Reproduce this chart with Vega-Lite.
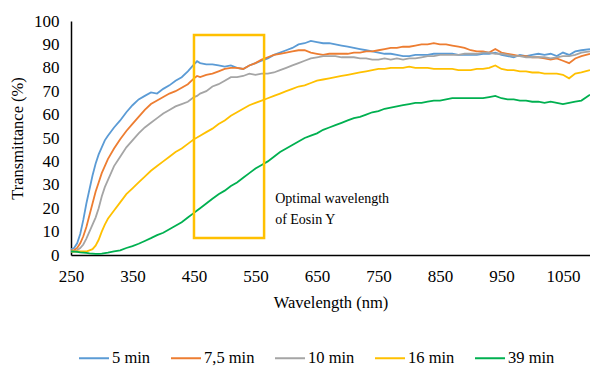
{
  "$schema": "https://vega.github.io/schema/vega-lite/v6.json",
  "width": 519,
  "height": 234,
  "autosize": {"type": "none"},
  "padding": {"left": 71, "top": 21, "right": 0, "bottom": 112},
  "background": "white",
  "config": {
    "view": {"stroke": null},
    "font": "Liberation Serif",
    "axis": {"labelFont": "Liberation Serif", "titleFont": "Liberation Serif"},
    "legend": {"labelFont": "Liberation Serif"}
  },
  "encoding": {
    "x": {"field": "w", "type": "quantitative", "scale": {"domain": [250, 1094], "nice": false, "zero": false},
          "axis": {"values": [250,350,450,550,650,750,850,950,1050], "format": "d", "title": "Wavelength (nm)",
                   "labelFont": "Liberation Serif", "titleFont": "Liberation Serif",
                   "labelColor": "#000", "titleColor": "#000", "titleFontWeight": "normal",
                   "labelFontSize": 17, "titleFontSize": 16.5, "labelPadding": 13, "titlePadding": 10, "labelFlush": false, "labelOverlap": false,
                   "grid": false, "ticks": false, "domainColor": "#000", "domainWidth": 1.5}},
    "y": {"field": "T", "type": "quantitative", "scale": {"domain": [0, 100], "nice": false},
          "axis": {"values": [0,10,20,30,40,50,60,70,80,90,100], "title": "Transmittance (%)",
                   "labelFont": "Liberation Serif", "titleFont": "Liberation Serif",
                   "labelColor": "#000", "titleColor": "#000", "titleFontWeight": "normal",
                   "labelFontSize": 17, "titleFontSize": 16.5, "labelPadding": 12, "titlePadding": 8, "labelFlush": false, "labelOverlap": false,
                   "grid": false, "ticks": false, "domainColor": "#000", "domainWidth": 1.5}}
  },
  "layer": [
    {
      "data": {"values": [
        {"w":250,"a":2.5,"b":2,"c":1.5,"d":1.5,"e":1.5},
        {"w":255,"a":3,"b":2,"c":1.5,"d":1.5,"e":1.4},
        {"w":260,"a":5,"b":3,"c":2,"d":1.5,"e":1.3},
        {"w":265,"a":9,"b":5,"c":3,"d":1.5,"e":1.1},
        {"w":270,"a":15,"b":8,"c":4.5,"d":1.5,"e":1},
        {"w":275,"a":22,"b":12,"c":7,"d":1.5,"e":0.9},
        {"w":280,"a":28,"b":17,"c":10,"d":2,"e":0.7},
        {"w":285,"a":34,"b":22,"c":13,"d":2.5,"e":0.6},
        {"w":290,"a":39,"b":27,"c":16,"d":4,"e":0.5},
        {"w":295,"a":43,"b":31,"c":20,"d":6.5,"e":0.5},
        {"w":300,"a":46,"b":35,"c":25,"d":10,"e":0.6},
        {"w":305,"a":49,"b":38,"c":29,"d":13,"e":0.8},
        {"w":310,"a":51,"b":41,"c":32,"d":15.5,"e":1},
        {"w":320,"a":54.5,"b":45.5,"c":38,"d":19,"e":1.5},
        {"w":330,"a":57.5,"b":49.5,"c":42,"d":22.5,"e":2},
        {"w":340,"a":61,"b":53,"c":46,"d":26,"e":3},
        {"w":350,"a":64,"b":56,"c":49,"d":28.5,"e":3.8},
        {"w":360,"a":66.5,"b":59,"c":52,"d":31,"e":4.8},
        {"w":370,"a":68,"b":62,"c":54.5,"d":33.5,"e":6},
        {"w":380,"a":69.5,"b":64.5,"c":56.5,"d":36,"e":7.2},
        {"w":390,"a":69,"b":66,"c":58.5,"d":38,"e":8.5},
        {"w":400,"a":71,"b":67.5,"c":60.5,"d":40,"e":9.5},
        {"w":410,"a":72.5,"b":69,"c":62,"d":42,"e":11},
        {"w":420,"a":74.5,"b":70,"c":63.5,"d":44,"e":12.5},
        {"w":430,"a":76,"b":71.5,"c":64.5,"d":45.5,"e":14},
        {"w":440,"a":78.5,"b":73,"c":65.5,"d":47.5,"e":16},
        {"w":450,"a":81.5,"b":75.5,"c":67.5,"d":49.5,"e":18},
        {"w":455,"a":82.8,"b":76.5,"c":68,"d":50.2,"e":19},
        {"w":460,"a":82,"b":76,"c":69,"d":51,"e":20},
        {"w":470,"a":81.5,"b":77,"c":70,"d":52.5,"e":22},
        {"w":480,"a":81.5,"b":77.5,"c":72,"d":54,"e":24},
        {"w":490,"a":81,"b":78.5,"c":73,"d":56,"e":26},
        {"w":500,"a":80.5,"b":79.5,"c":74.5,"d":57.5,"e":27.5},
        {"w":510,"a":81,"b":80,"c":76,"d":59.5,"e":29.5},
        {"w":520,"a":80,"b":80,"c":76,"d":61,"e":31},
        {"w":530,"a":79.5,"b":79.5,"c":76.5,"d":62.5,"e":33},
        {"w":540,"a":81,"b":81,"c":77.5,"d":64,"e":35},
        {"w":550,"a":82,"b":82,"c":77,"d":65,"e":37},
        {"w":560,"a":83,"b":83.5,"c":77.5,"d":66,"e":38.5},
        {"w":570,"a":84,"b":84.5,"c":77.5,"d":67,"e":40},
        {"w":580,"a":85.5,"b":85.5,"c":78,"d":68,"e":42},
        {"w":590,"a":86.5,"b":86,"c":79,"d":69,"e":44},
        {"w":600,"a":87.5,"b":86.5,"c":80,"d":70,"e":45.5},
        {"w":610,"a":88.5,"b":87,"c":81,"d":71,"e":47},
        {"w":620,"a":90,"b":87.5,"c":82,"d":72,"e":48.5},
        {"w":630,"a":90.5,"b":87.5,"c":83,"d":72.5,"e":50},
        {"w":640,"a":91.5,"b":86.5,"c":84,"d":73.5,"e":51},
        {"w":650,"a":91,"b":86,"c":84.5,"d":74.5,"e":52},
        {"w":660,"a":90.5,"b":85.5,"c":85,"d":75,"e":53.5},
        {"w":670,"a":90.5,"b":86,"c":85,"d":75.5,"e":54.5},
        {"w":680,"a":90,"b":86,"c":85,"d":76,"e":55.5},
        {"w":690,"a":89.5,"b":86,"c":84.5,"d":76.5,"e":56.5},
        {"w":700,"a":89,"b":86,"c":84.5,"d":77,"e":57.5},
        {"w":710,"a":88.5,"b":86.5,"c":84.5,"d":77.5,"e":58.5},
        {"w":720,"a":88,"b":86.5,"c":84,"d":78,"e":59},
        {"w":730,"a":87.5,"b":87,"c":84,"d":78.5,"e":60},
        {"w":740,"a":87,"b":87,"c":83.5,"d":79,"e":61},
        {"w":750,"a":86.5,"b":87.5,"c":83.5,"d":79.5,"e":61.5},
        {"w":760,"a":86,"b":88,"c":84,"d":79.5,"e":62.5},
        {"w":770,"a":86,"b":88.5,"c":83.5,"d":80,"e":63},
        {"w":780,"a":85.5,"b":88.5,"c":84,"d":80,"e":63.5},
        {"w":790,"a":85,"b":89,"c":83.5,"d":80,"e":64},
        {"w":800,"a":85,"b":89,"c":84,"d":80.5,"e":64.5},
        {"w":810,"a":85.5,"b":89.5,"c":84,"d":80,"e":65},
        {"w":820,"a":85.5,"b":90,"c":84.5,"d":80,"e":65},
        {"w":830,"a":85.5,"b":90,"c":85,"d":80,"e":65.5},
        {"w":840,"a":86,"b":90.5,"c":85,"d":79.5,"e":66},
        {"w":850,"a":86,"b":90,"c":85.5,"d":79.5,"e":66},
        {"w":860,"a":86,"b":90,"c":85.5,"d":79.5,"e":66.5},
        {"w":870,"a":86,"b":89.5,"c":85.5,"d":79.5,"e":67},
        {"w":880,"a":85.5,"b":89,"c":85.5,"d":79,"e":67},
        {"w":890,"a":85.5,"b":88.5,"c":86,"d":79,"e":67},
        {"w":900,"a":85.5,"b":87.5,"c":86,"d":79,"e":67},
        {"w":910,"a":85.5,"b":87,"c":86,"d":79.5,"e":67},
        {"w":920,"a":86,"b":87,"c":86.5,"d":79.5,"e":67},
        {"w":930,"a":86,"b":86.5,"c":86.5,"d":80,"e":67.5},
        {"w":940,"a":86.5,"b":88,"c":86,"d":81,"e":68},
        {"w":950,"a":85.5,"b":86.5,"c":86,"d":79.5,"e":67},
        {"w":960,"a":85,"b":86,"c":85.5,"d":79,"e":66.5},
        {"w":970,"a":84.5,"b":85.5,"c":85,"d":79,"e":66.5},
        {"w":980,"a":85.5,"b":85,"c":85,"d":78.5,"e":66},
        {"w":990,"a":85,"b":85,"c":84.5,"d":78.5,"e":66},
        {"w":1000,"a":85.5,"b":84.5,"c":84.5,"d":78,"e":65.5},
        {"w":1010,"a":86,"b":84.5,"c":84.5,"d":78,"e":65.5},
        {"w":1020,"a":85.5,"b":84,"c":84.5,"d":77.5,"e":65},
        {"w":1030,"a":86,"b":83.5,"c":84,"d":77.5,"e":65.5},
        {"w":1040,"a":85,"b":84,"c":84.5,"d":77.5,"e":65},
        {"w":1050,"a":86.5,"b":83,"c":85,"d":77,"e":64.5},
        {"w":1060,"a":85.5,"b":82,"c":85,"d":75.5,"e":65},
        {"w":1070,"a":87,"b":84,"c":85.5,"d":77.5,"e":65.5},
        {"w":1080,"a":87.5,"b":85,"c":86.5,"d":78,"e":66},
        {"w":1094,"a":88,"b":86,"c":87,"d":79,"e":68.5}
      ]},
      "transform": [{"fold": ["a","b","c","d","e"], "as": ["series","T"]}],
      "mark": {"type": "line", "strokeWidth": 1.8, "clip": true},
      "encoding": {
        "color": {"field": "series", "type": "nominal",
                  "scale": {"domain": ["a","b","c","d","e"], "range": ["#5B9BD5","#ED7D31","#A5A5A5","#FFC000","#00B050"]},
                  "legend": {"orient": "none", "legendX": 7, "legendY": 321, "direction": "horizontal", "title": null,
                             "labelExpr": "{'a':'5 min','b':'7,5 min','c':'10 min','d':'16 min','e':'39 min'}[datum.value]",
                             "symbolType": "stroke", "symbolSize": 900, "symbolStrokeWidth": 2, "labelFont": "Liberation Serif", "labelFontSize": 16.5, "labelColor": "#000", "labelOffset": 2, "columnPadding": 16}}
      }
    },
    {
      "data": {"values": [{"w": 450, "w2": 564, "T": 7.3, "T2": 94}]},
      "mark": {"type": "rect", "fill": null, "filled": false, "stroke": "#FFC000", "strokeWidth": 2.5},
      "encoding": {
        "x2": {"field": "w2"},
        "y2": {"field": "T2"}
      }
    },
    {
      "data": {"values": [{"w": 582, "T": 24, "label": ["Optimal wavelength", "of Eosin Y"]}]},
      "mark": {"type": "text", "align": "left", "baseline": "middle", "font": "Liberation Serif", "fontSize": 14, "lineHeight": 21, "color": "#000"},
      "encoding": {
        "text": {"field": "label"}
      }
    }
  ]
}
